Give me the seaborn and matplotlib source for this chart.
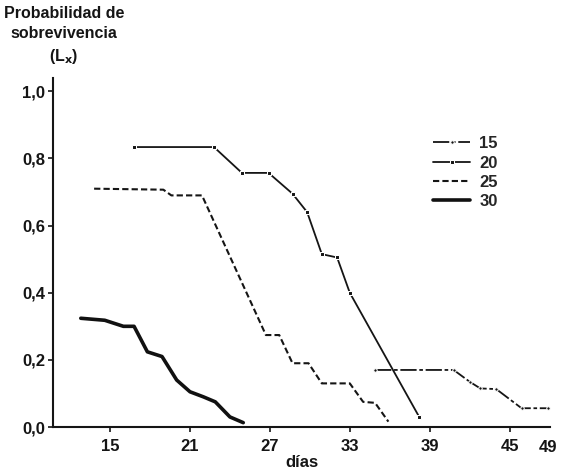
import seaborn as sns
import pandas as pd
import matplotlib.pyplot as plt

# datos (dias, Lx)
dias_15 = [34.9, 40.8, 42.0, 42.8, 44.0, 45.9, 47.9]
lx_15 = [0.170, 0.170, 0.135, 0.115, 0.113, 0.056, 0.056]

dias_20 = [16.8, 22.8, 24.9, 26.9, 28.7, 29.8, 30.9, 32.05, 33.0, 38.2]
lx_20 = [0.834, 0.834, 0.757, 0.757, 0.695, 0.640, 0.515, 0.505, 0.400, 0.031]

dias_25 = [13.8, 19.0, 19.6, 21.9, 26.7, 27.7, 28.7, 29.9, 30.9, 33.0, 34.0, 34.9, 35.9]
lx_25 = [0.710, 0.707, 0.690, 0.690, 0.274, 0.274, 0.190, 0.190, 0.130, 0.130, 0.075, 0.072, 0.016]

dias_30 = [12.8, 14.6, 16.0, 16.8, 17.8, 18.9, 20.0, 21.0, 22.0, 22.9, 24.0, 25.0]
lx_30 = [0.324, 0.318, 0.300, 0.300, 0.224, 0.210, 0.140, 0.105, 0.090, 0.075, 0.030, 0.013]

x_ticks = [15, 21, 27, 33, 39, 45]
x_labels = ['15', '21', '27', '33', '39', '45']
y_ticks = [0.0, 0.2, 0.4, 0.6, 0.8, 1.0]
y_labels = ['0,0', '0,2', '0,4', '0,6', '0,8', '1,0']

sns.set_style("ticks")
plt.rcParams['font.family'] = ['Liberation Sans', 'DejaVu Sans']
plt.rcParams['font.weight'] = 'bold'
plt.rcParams['mathtext.default'] = 'bf'
fs = 12
ink = '#151515'

fig = plt.figure(figsize=(5.62, 4.75), dpi=100)
ax = fig.add_axes([0.094, 0.101, 0.885, 0.735])

d15 = pd.DataFrame({'dias': dias_15, 'lx': lx_15})
d20 = pd.DataFrame({'dias': dias_20, 'lx': lx_20})
d25 = pd.DataFrame({'dias': dias_25, 'lx': lx_25})
d30 = pd.DataFrame({'dias': dias_30, 'lx': lx_30})

sns.lineplot(data=d15, x='dias', y='lx', ax=ax, sort=False, estimator=None, color=ink,
             linewidth=1.3, marker='o', markersize=2.5, label='15')
ax.lines[-1].set_linestyle((0, (9, 1.5, 2, 1.5)))
sns.lineplot(data=d20, x='dias', y='lx', ax=ax, sort=False, estimator=None, color=ink,
             linewidth=1.3, marker='s', markersize=2.5, label='20')
sns.lineplot(data=d25, x='dias', y='lx', ax=ax, sort=False, estimator=None, color=ink,
             linewidth=1.5, label='25')
ax.lines[-1].set_linestyle((0, (3, 1.5)))
sns.lineplot(data=d30, x='dias', y='lx', ax=ax, sort=False, estimator=None, color='#111111',
             linewidth=2.6, label='30')

ax.set_xlim(10.7, 48.05)
ax.set_ylim(0, 1.04)
ax.set_xticks(x_ticks, labels=x_labels)
ax.set_yticks(y_ticks, labels=y_labels)
ax.tick_params(axis='both', labelsize=fs, length=3.5, width=1.2, colors=ink)
ax.tick_params(axis='x', pad=5)
ax.tick_params(axis='y', pad=2)
for s in ['left', 'bottom']:
    ax.spines[s].set_linewidth(1.5)
    ax.spines[s].set_color(ink)
sns.despine(ax=ax)

# la ultima etiqueta del eje x
ax.text(0.995, -0.036, '49', transform=ax.transAxes, ha='center', va='top', fontsize=fs, color=ink)

ax.set_xlabel('días', fontsize=fs, fontweight='bold', labelpad=1, color=ink)
ax.set_ylabel('Probabilidad de\nsobrevivencia\n(L$_x$)', fontsize=11.5, fontweight='bold', rotation=0,
              color=ink, ha='center', va='bottom', linespacing=1.4)
ax.yaxis.set_label_coords(0.022, 1.035)

ax.legend(loc='upper left', bbox_to_anchor=(425 / 562, (475 - 128) / 475), bbox_transform=fig.transFigure,
          frameon=False, prop={'size': fs, 'weight': 'bold'}, borderpad=0, handlelength=2.2,
          handletextpad=0.55, labelspacing=0.25)

fig.savefig('out.png', dpi=100)
